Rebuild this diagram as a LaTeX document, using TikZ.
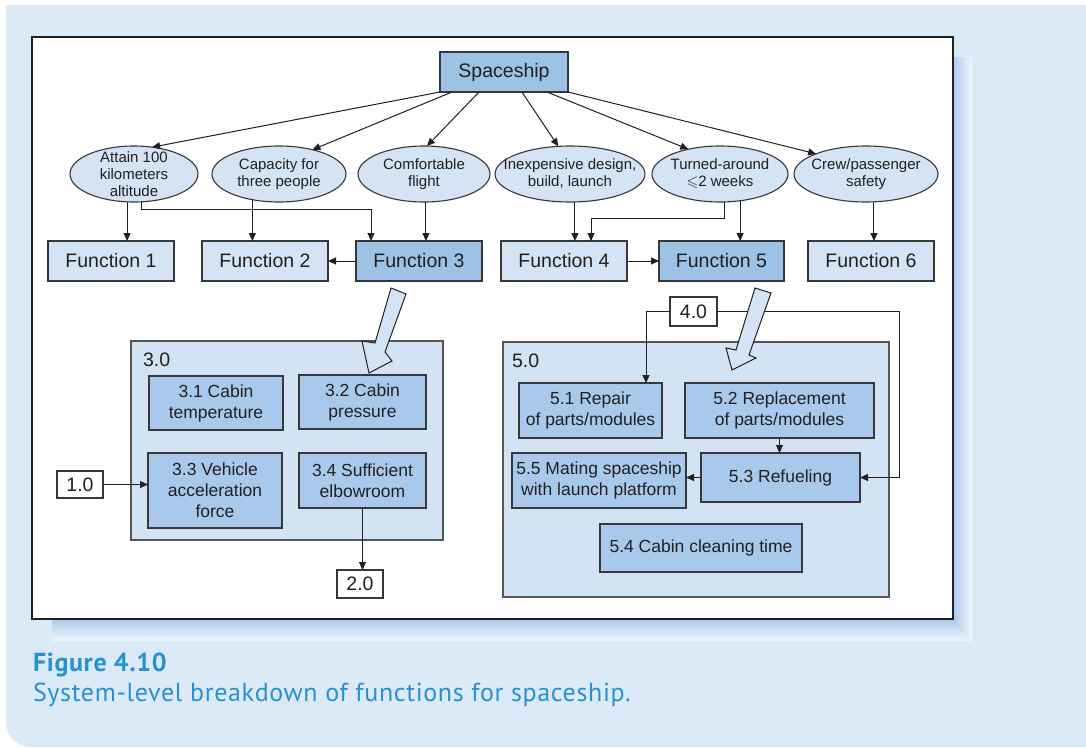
\documentclass[tikz,border=0pt]{standalone}
\usepackage{amssymb}
\usepackage{fontspec}
\setmainfont{Liberation Sans}
\newfontfamily\capfont[LetterSpace=2.5]{PT Sans}
\usetikzlibrary{shapes.geometric,arrows.meta,calc}

\definecolor{panelbg}{RGB}{220,233,246}
\definecolor{darkfill}{RGB}{156,194,230}
\definecolor{subfill}{RGB}{168,201,235}
\definecolor{lightfill}{RGB}{212,228,244}
\definecolor{groupfill}{RGB}{210,227,243}
\definecolor{ink}{RGB}{35,31,32}
\definecolor{edge}{RGB}{55,55,58}
\definecolor{capblue}{RGB}{38,146,210}
\definecolor{shadeblue}{RGB}{172,202,236}
\definecolor{shadelight}{RGB}{240,246,252}

\begin{document}
\begin{tikzpicture}[x=1pt,y=-1pt,
  every node/.style={inner sep=0pt, outer sep=0pt, text=ink},
  box/.style={draw=edge, line width=1.1pt, rectangle, align=center},
  fbox/.style={box, fill=lightfill, minimum width=126pt, minimum height=40pt,
    font=\fontsize{19.5}{22}\selectfont},
  fboxdark/.style={fbox, fill=darkfill},
  goal/.style={ellipse, draw=edge, line width=1.1pt, fill=lightfill, minimum height=56pt},
  goaltext/.style={align=center, font=\fontsize{15}{17}\selectfont},
  subbox/.style={box, fill=subfill, font=\fontsize{17.5}{21}\selectfont},
  group/.style={rectangle, draw=edge!85, line width=1.1pt, fill=groupfill},
  grouplabel/.style={anchor=base west, font=\fontsize{19.5}{22}\selectfont},
  tag/.style={box, fill=white, font=\fontsize{19.5}{22}\selectfont},
  arr/.style={draw=ink, line width=1pt, -{Triangle[length=8pt,width=7pt]}},
  blockarrow/.style={draw=ink, line width=1pt, fill=lightfill, line join=miter}
]
\useasboundingbox (0,0) rectangle (1086,747);

% page background with its rounded lower left corner
\fill[white] (0,0) rectangle (1086,747);
\begin{scope}
  \clip (6,5) rectangle (1086,747);
  \fill[panelbg, rounded corners=25pt] (6,-100) rectangle (1200,747);
\end{scope}

% drop shadow of the frame
\shade[left color=shadeblue, right color=shadelight]
  (953,57) -- (972,57) -- (972,641) -- (953,619) -- cycle;
\shade[top color=shadeblue, bottom color=shadelight]
  (52,619) -- (953,619) -- (972,641) -- (52,641) -- cycle;

% frame
\draw[line width=2pt, draw=ink, fill=white] (32,37) rectangle (953,619);

% top level
\node[fboxdark, minimum width=128pt] (sp) at (504,72) {Spaceship};

% goals
\node[goal, minimum width=128pt,
  label={[goaltext]center:{Attain 100\\kilometers\\altitude}}] (e1) at (134,174) {};
\node[goal, minimum width=134pt,
  label={[goaltext]center:{Capacity for\\three people}}] (e2) at (279,174) {};
\node[goal, minimum width=132pt,
  label={[goaltext]center:{Comfortable\\flight}}] (e3) at (424,174) {};
\node[goal, minimum width=150pt,
  label={[goaltext]center:{Inexpensive design,\\build, launch}}] (e4) at (570,174) {};
\node[goal, minimum width=136pt,
  label={[goaltext]center:{Turned-around\\$\leqslant$2 weeks}}] (e5) at (720,174) {};
\node[goal, minimum width=144pt,
  label={[goaltext]center:{Crew/passenger\\safety}}] (e6) at (866,174) {};

% functions
\node[fbox] (f1) at (111,261) {Function 1};
\node[fbox] (f2) at (265,261) {Function 2};
\node[fboxdark] (f3) at (419,261) {Function 3};
\node[fbox] (f4) at (564,261) {Function 4};
\node[fboxdark, minimum width=125pt] (f5) at (721.5,261) {Function 5};
\node[fbox] (f6) at (871,261) {Function 6};

% spaceship to goals
\draw[arr] (sp.south west) -- (e1.56);
\draw[arr] ($(sp.south west)!0.094!(sp.south east)$) -- (e2.36);
\draw[arr] ($(sp.south west)!0.305!(sp.south east)$) -- (e3.84);
\draw[arr] ($(sp.south west)!0.64!(sp.south east)$) -- (e4.113);
\draw[arr] ($(sp.south west)!0.836!(sp.south east)$) -- (e5.142);
\draw[arr] (sp.south east) -- (e6.158);

% goals to functions
\draw[arr] (e1.256) -- (e1.256 |- f1.north);
\draw[arr] (e1.286) -- ++(0,8) -| ($(f3.north west)+(15,0)$);
\draw[arr] (e2.224) -- (e2.224 |- f2.north);
\draw[arr] (e3.274) -- (e3.274 |- f3.north);
\draw[arr] (e4.280) -- (e4.280 |- f4.north);
\draw[arr] (e5.280) -- ++(0,17) -| ($(f4.north)+(27,0)$);
\draw[arr] (e5.307) -- (e5.307 |- f5.north);
\draw[arr] (e6.286) -- (e6.286 |- f6.north);
\draw[arr] (f3.west) -- (f2.east);
\draw[arr] (f4.east) -- (f5.west);

% breakdown of function 3
\node[group, minimum width=312pt, minimum height=199pt] (g3) at (287,440.5) {};
\node[grouplabel] (g3lbl) at (143,366) {3.0};
\node[subbox, minimum width=134pt, minimum height=54pt] (s31) at (216,403) {3.1 Cabin\\temperature};
\node[subbox, minimum width=127pt, minimum height=54pt] (s32) at (362.5,402) {3.2 Cabin\\pressure};
\node[subbox, minimum width=134pt, minimum height=75pt] (s33) at (215,490.5) {3.3 Vehicle\\acceleration\\force};
\node[subbox, minimum width=127pt, minimum height=55pt] (s34) at (362.5,480.5) {3.4 Sufficient\\elbowroom};
\node[tag, minimum width=46pt, minimum height=27pt] (n10) at (80,484.5) {1.0};
\node[tag, minimum width=46pt, minimum height=28pt] (n20) at (360,584) {2.0};
\draw[arr] (n10.east) -- (n10.east -| s33.west);
\draw[arr] (s34.south) -- (s34.south |- n20.north);

% breakdown of function 5
\node[group, minimum width=386pt, minimum height=255pt] (g5) at (696,469.5) {};
\node[grouplabel] (g5lbl) at (512,367) {5.0};
\node[subbox, minimum width=143pt, minimum height=55pt] (s51) at (590.5,410.5) {5.1 Repair\\of parts/modules};
\node[subbox, minimum width=189pt, minimum height=55pt] (s52) at (779.5,410.5) {5.2 Replacement\\of parts/modules};
\node[subbox, minimum width=174pt, minimum height=55pt] (s55) at (599,480.5) {5.5 Mating spaceship\\with launch platform};
\node[subbox, minimum width=159pt, minimum height=49pt] (s53) at (780.5,477.5) {5.3 Refueling};
\node[subbox, minimum width=202pt, minimum height=48pt] (s54) at (701,548) {5.4 Cabin cleaning time};
\node[tag, minimum width=47pt, minimum height=29pt] (n40) at (693.5,311.5) {4.0};
\draw[arr] (n40.west) -| ($(s51.north)+(55.5,0)$);
\draw[arr] (n40.east) -| ($(s53.east)+(39,0)$) -- (s53.east);
\draw[arr] (s52.south) -- (s52.south |- s53.north);
\draw[arr] (s53.west) -- (s53.west -| s55.east);

% hollow block arrows into the breakdowns
\draw[blockarrow] (391,288) -- (406,294) -- (385,352) -- (392,361) -- (369,373)
  -- (362,341) -- (375,343) -- cycle;
\draw[blockarrow] (755,288) -- (771,293) -- (749,355) -- (756,358) -- (732,370)
  -- (726,348) -- (736,350) -- cycle;

% caption
\node[anchor=base west, text=capblue, font=\capfont\bfseries\fontsize{26}{30}\selectfont]
  (capnum) at (33,671) {Figure 4.10};
\node[anchor=base west, text=capblue, font=\capfont\fontsize{26}{30}\selectfont]
  (captext) at (33,701) {System-level breakdown of functions for spaceship.};
\end{tikzpicture}
\end{document}
